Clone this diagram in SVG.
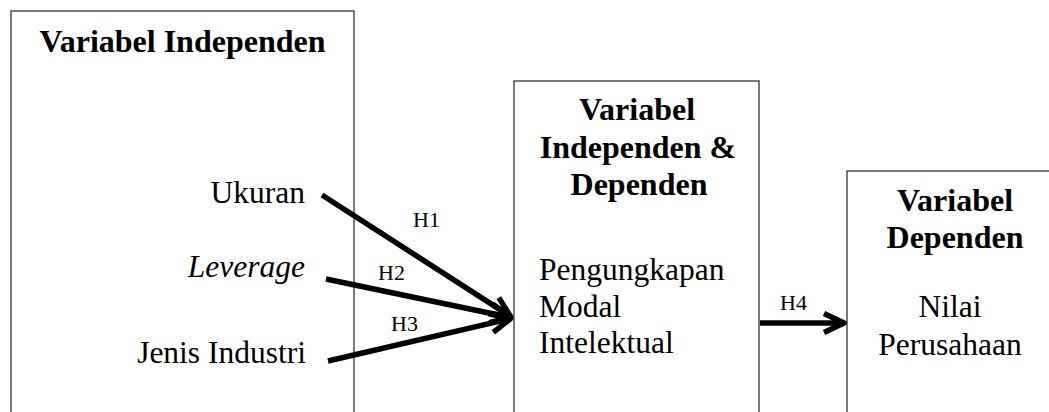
<svg xmlns="http://www.w3.org/2000/svg" width="1049" height="412" viewBox="0 0 1049 412">
<style>
.box{fill:#fff;stroke:#333;stroke-width:1.3}
.h{font-family:"Liberation Serif","Times New Roman",serif;font-weight:bold;font-size:32px;fill:#000}
.t{font-family:"Liberation Serif","Times New Roman",serif;font-size:31.5px;fill:#000}
.lbl{font-family:"Liberation Serif","Times New Roman",serif;font-size:22px;fill:#000}
.arr{stroke:#000;stroke-width:5.5;fill:none;marker-end:url(#head)}
</style>
<defs>
<marker id="head" markerUnits="userSpaceOnUse" viewBox="-26 -15 30 30" markerWidth="30" markerHeight="30" refX="0" refY="0" orient="auto">
<path d="M-20,-9.5 L0,0 L-20,9.5" fill="none" stroke="#000" stroke-width="5.5" stroke-linejoin="round"/>
</marker>
</defs>
<rect width="1049" height="412" fill="#fff"/>
<g id="node-independen">
<rect class="box" x="11" y="11" width="343" height="420"/>
<text class="h" x="182.5" y="52" text-anchor="middle">Variabel Independen</text>
<text class="t" x="305" y="203" text-anchor="end">Ukuran</text>
<text class="t" x="305" y="277" text-anchor="end" font-style="italic">Leverage</text>
<text class="t" x="306" y="363" text-anchor="end">Jenis Industri</text>
</g>
<g id="node-intervening">
<rect class="box" x="514" y="81" width="245" height="350"/>
<text class="h" x="637" y="120" text-anchor="middle">Variabel</text>
<text class="h" x="638" y="158" text-anchor="middle">Independen &amp;</text>
<text class="h" x="639" y="195" text-anchor="middle">Dependen</text>
<text class="t" x="539" y="280">Pengungkapan</text>
<text class="t" x="539" y="317">Modal</text>
<text class="t" x="539" y="353">Intelektual</text>
</g>
<g id="node-dependen">
<rect class="box" x="847" y="171" width="230" height="260"/>
<text class="h" x="955" y="211" text-anchor="middle">Variabel</text>
<text class="h" x="955" y="248" text-anchor="middle">Dependen</text>
<text class="t" x="950" y="317" text-anchor="middle">Nilai</text>
<text class="t" x="950" y="355" text-anchor="middle">Perusahaan</text>
</g>
<g id="connectors">
<line class="arr" x1="322" y1="195" x2="510.5" y2="316.4"/>
<line class="arr" x1="326" y1="279" x2="510.6" y2="317.5"/>
<line class="arr" x1="328" y1="361" x2="510.6" y2="318.6"/>
<line class="arr" x1="760" y1="323" x2="844" y2="323"/>
<text class="lbl" x="413" y="227">H1</text>
<text class="lbl" x="378" y="280">H2</text>
<text class="lbl" x="391" y="331">H3</text>
<text class="lbl" x="780" y="310">H4</text>
</g>
</svg>
